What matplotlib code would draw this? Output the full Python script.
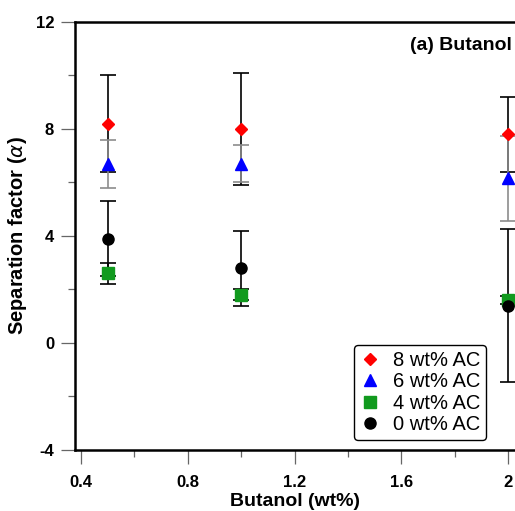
"""
Separation factor vs butanol concentration for different AC loadings.
"""

import matplotlib.pyplot as plt
from matplotlib.ticker import MultipleLocator

plt.rcParams["font.family"] = ["Liberation Sans", "DejaVu Sans"]
plt.rcParams["axes.unicode_minus"] = False

butanol = [0.5, 1.0, 2.0]

ac8_mean = [8.2, 8.0, 7.8]
ac8_err = [1.8, 2.1, 1.4]

ac6_mean = [6.7, 6.7, 6.15]
ac6_err = [0.9, 0.7, 1.6]

ac4_mean = [2.6, 1.8, 1.6]
ac4_err = [0.4, 0.2, 0.15]

ac0_mean = [3.9, 2.8, 1.4]
ac0_err = [1.4, 1.4, 2.85]

fig = plt.figure(figsize=(5.15, 5.11), dpi=100)
ax = fig.add_axes([0.1456, 0.1194, 0.8544, 0.8376])

err_kw = dict(fmt="none", capsize=5.5, elinewidth=1.2, capthick=1.2, zorder=2)
ax.errorbar(butanol, ac8_mean, yerr=ac8_err, ecolor="black", **err_kw)
ax.errorbar(butanol, ac6_mean, yerr=ac6_err, ecolor="#8c8c8c", **err_kw)
ax.errorbar(butanol, ac4_mean, yerr=ac4_err, ecolor="black", **err_kw)
ax.errorbar(butanol, ac0_mean, yerr=ac0_err, ecolor="black", **err_kw)

ax.plot(butanol, ac8_mean, "D", color="red", ms=6.5, ls="none", label="8 wt% AC", zorder=3)
ax.plot(butanol, ac6_mean, "^", color="blue", ms=8.5, ls="none", label="6 wt% AC", zorder=3)
ax.plot(butanol, ac4_mean, "s", color="#119a1e", ms=8, ls="none", label="4 wt% AC", zorder=3)
ax.plot(butanol, ac0_mean, "o", color="black", ms=8, ls="none", label="0 wt% AC", zorder=3)

ax.set_xlim(0.3775, 2.026)
ax.set_ylim(-4, 12)
ax.xaxis.set_minor_locator(MultipleLocator(0.2))
ax.yaxis.set_major_locator(MultipleLocator(4))
ax.yaxis.set_minor_locator(MultipleLocator(2))
ax.set_xticks([0.4, 0.8, 1.2, 1.6, 2.0])
ax.set_xticklabels(["0.4", "0.8", "1.2", "1.6", "2"])

ax.tick_params(which="major", direction="out", length=10, width=0.9,
               color="#666666", labelsize=12)
ax.tick_params(axis="x", which="major", pad=8)
ax.tick_params(axis="y", which="major", pad=5)
ax.tick_params(which="minor", direction="out", length=5, width=0.9, color="#666666")
for lbl in ax.get_xticklabels() + ax.get_yticklabels():
    lbl.set_fontweight("bold")

for side in ["left", "bottom", "top"]:
    ax.spines[side].set_linewidth(1.8)
ax.spines["right"].set_visible(False)

ax.set_xlabel("Butanol (wt%)", fontsize=14, fontweight="bold", labelpad=2)
ax.set_ylabel(r"Separation factor ($\alpha$)", fontsize=14.5, fontweight="bold", labelpad=5)

ax.text(0.993, 0.965, "(a) Butanol", transform=ax.transAxes, ha="right", va="top",
        fontsize=14, fontweight="bold")

leg = ax.legend(loc="lower right", bbox_to_anchor=(0.934, 0.023), borderaxespad=0,
                fontsize=14.5, frameon=True, fancybox=True, edgecolor="black",
                handletextpad=0.6, labelspacing=0.12, borderpad=0.3, handlelength=1.0)
leg.get_frame().set_linewidth(1.0)
leg.get_frame().set_alpha(1)

fig.savefig("out.png", dpi=100)
plt.close(fig)
